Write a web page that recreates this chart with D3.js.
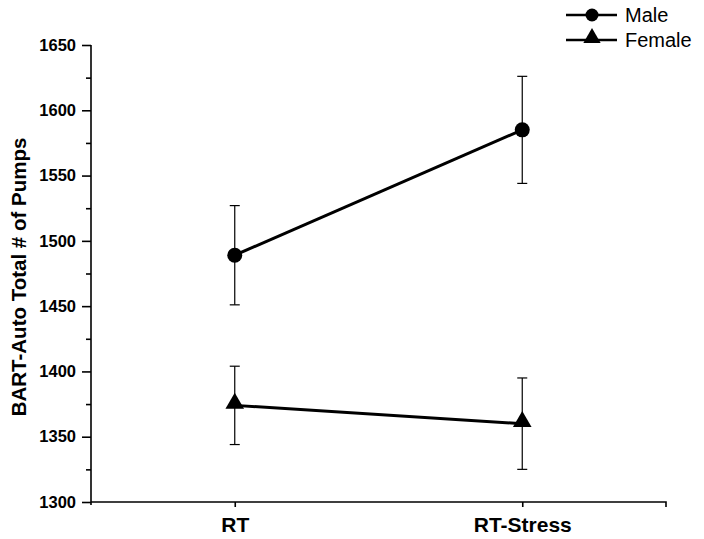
<!DOCTYPE html>
<html><head><meta charset="utf-8">
<script src="https://cdn.jsdelivr.net/npm/d3@7"></script>
<style>body{margin:0;background:#fff}svg{display:block;font-family:"Liberation Sans",Arial,sans-serif}</style>
</head><body>
<svg id="c" width="704" height="539"></svg>
<script>
const categories = ["RT", "RT-Stress"];
const seriesNames = ["Male", "Female"];
const maleMeans = [1489, 1585];
const maleErrors = [38, 41];
const femaleMeans = [1374, 1360];
const femaleErrors = [30, 35];
const yTicks = [1300, 1350, 1400, 1450, 1500, 1550, 1600, 1650];
const yMinorTicks = [1325, 1375, 1425, 1475, 1525, 1575, 1625];

const series = [
  {name: seriesNames[0], means: maleMeans, errs: maleErrors, shape: "circle"},
  {name: seriesNames[1], means: femaleMeans, errs: femaleErrors, shape: "triangle"}
];

const svg = d3.select("#c");
const x0 = 91, x1 = 666, yTop = 45, yBot = 502;
const x = d3.scalePoint().domain(categories).range([x0, x1]).padding(0.5);
const y = d3.scaleLinear().domain([1300, 1650]).range([yBot, yTop]);

// Y axis
const yAxis = svg.append("g").attr("transform", `translate(${x0},0)`)
  .call(d3.axisLeft(y).tickValues(yTicks).tickSize(9).tickPadding(6).tickFormat(d3.format("d")));
yAxis.select(".domain").attr("stroke", "#000").attr("stroke-width", 1.6).attr("d", `M0,${yTop}V${yBot+3}`);
yAxis.selectAll(".tick line").attr("stroke-width", 1.6);
yAxis.selectAll(".tick text").attr("font-size", 16.5).attr("font-weight", "bold").attr("fill", "#000")
  .attr("font-family", "Liberation Sans, Arial, sans-serif");
svg.append("g").attr("transform", `translate(${x0},0)`)
  .call(d3.axisLeft(y).tickValues(yMinorTicks).tickSize(5).tickFormat(""))
  .call(g => g.select(".domain").remove())
  .selectAll(".tick line").attr("stroke-width", 1.6);

// X axis
const xAxis = svg.append("g").attr("transform", `translate(0,${yBot})`)
  .call(d3.axisBottom(x).tickSize(5).tickPadding(10));
xAxis.select(".domain").attr("stroke", "#000").attr("stroke-width", 1.6).attr("d", `M${x0},0H${x1}V5`);
xAxis.selectAll(".tick line").attr("stroke-width", 1.6);
xAxis.selectAll(".tick text").attr("font-size", 21).attr("font-weight", "bold").attr("fill", "#000")
  .attr("font-family", "Liberation Sans, Arial, sans-serif");

// Y label
svg.append("text").attr("transform", `translate(26,277) rotate(-90)`)
  .attr("text-anchor", "middle").attr("font-size", 20.5).attr("font-weight", "bold").attr("fill", "#000")
  .text("BART-Auto Total # of Pumps");

const sym = {
  circle: d3.symbol().type(d3.symbolCircle).size(Math.PI * 7.5 * 7.5),
  triangle: d3.symbol().type(d3.symbolTriangle).size(150)
};
const symLegend = {
  circle: d3.symbol().type(d3.symbolCircle).size(Math.PI * 6.5 * 6.5),
  triangle: d3.symbol().type(d3.symbolTriangle).size(130)
};

series.forEach(s => {
  const g = svg.append("g");
  const pts = categories.map((c, i) => ({c, m: s.means[i], e: s.errs[i]}));
  // error bars
  pts.forEach(p => {
    const cx = x(p.c);
    g.append("line").attr("x1", cx).attr("x2", cx).attr("y1", y(p.m + p.e)).attr("y2", y(p.m - p.e))
      .attr("stroke", "#000").attr("stroke-width", 1.2);
    [p.m + p.e, p.m - p.e].forEach(v => {
      g.append("line").attr("x1", cx - 5).attr("x2", cx + 5).attr("y1", y(v)).attr("y2", y(v))
        .attr("stroke", "#000").attr("stroke-width", 1.2);
    });
  });
  g.append("path").datum(pts)
    .attr("d", d3.line().x(p => x(p.c)).y(p => y(p.m)))
    .attr("fill", "none").attr("stroke", "#000").attr("stroke-width", 3);
  pts.forEach(p => {
    g.append("path").attr("d", sym[s.shape]())
      .attr("transform", `translate(${x(p.c)},${y(p.m) + (s.shape === "triangle" ? -2 : 0)})`)
      .attr("fill", "#000");
  });
});

// Legend
const legY = [15, 40];
series.forEach((s, i) => {
  const g = svg.append("g").attr("transform", `translate(0,${legY[i]})`);
  g.append("line").attr("x1", 566).attr("x2", 617).attr("stroke", "#000").attr("stroke-width", 2.5);
  g.append("path").attr("d", symLegend[s.shape]())
    .attr("transform", `translate(592,${s.shape === "triangle" ? -2 : 0})`).attr("fill", "#000");
  g.append("text").attr("x", 625).attr("y", 7).attr("font-size", 20).attr("fill", "#000").text(s.name);
});
</script>
</body></html>
